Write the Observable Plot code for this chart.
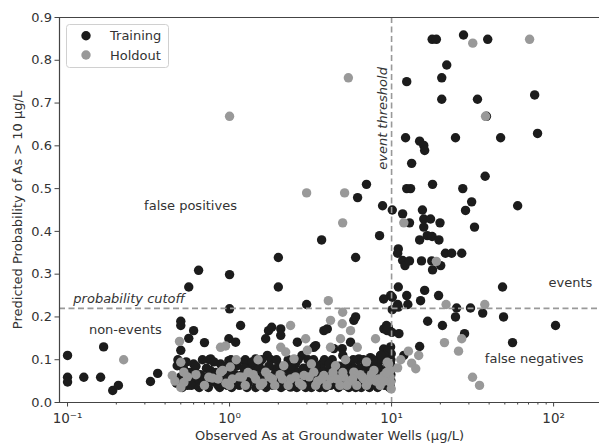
<!DOCTYPE html>
<html><head><meta charset="utf-8">
<script src="https://cdn.jsdelivr.net/npm/d3@7"></script>
<script src="https://cdn.jsdelivr.net/npm/@observablehq/plot@0.6"></script>
<style>body{margin:0;background:#fff} svg{display:block}</style>
</head><body><div id="chart"></div>
<script>
// [observed As (µg/L), predicted probability]
const training = [
[0.1,0.11],[0.167,0.13],[0.1,0.059],[0.1,0.048],[0.126,0.059],[0.16,0.059],[0.19,0.028],[0.206,0.04],[0.325,0.049],[0.36,0.068],
[0.5,0.19],[0.5,0.18],[0.6,0.168],[0.56,0.15],[0.7,0.14],[0.764,0.102],[0.5,0.122],
[0.644,0.309],[0.56,0.27],[1.0,0.299],[1.0,0.219],[2.0,0.339],[2.0,0.27],
[1.17,0.18],[1.74,0.168],[1.82,0.176],[2.07,0.172],[2.07,0.157],[1.67,0.149],[0.99,0.149],[1.09,0.141],[1.71,0.11],[1.45,0.102],[1.26,0.094],
[0.475,0.086],[0.535,0.047],[0.602,0.071],[0.646,0.055],[0.82,0.047],[0.99,0.098],[1.29,0.047],[1.52,0.086],[1.92,0.079],[2.07,0.044],
[2.99,0.229],[3.7,0.38],[6.0,0.339],[8.43,0.39],[7.0,0.51],[6.17,0.479],[8.8,0.46],[9.86,0.25],[8.93,0.242],
[5.85,0.192],[6.0,0.2],[3.82,0.168],[4.01,0.172],[2.62,0.141],[3.31,0.129],[3.4,0.133],[4.4,0.126],[4.96,0.126],[5.58,0.141],[8.96,0.172],[9.4,0.168],[9.3,0.18],
[7.78,0.09],[8.55,0.11],[6.29,0.102],[3.65,0.086],[5.33,0.079],
[2.16,0.047],[2.62,0.071],[3.16,0.047],[4.2,0.04],[7.08,0.044],[8.55,0.047],[9.9,0.051],[2.38,0.036],[4.4,0.044],
[8.93,0.125],[9.86,0.13],[9.95,0.114],[9.45,0.121],[9.6,0.105],[9.86,0.09],[9.6,0.075],[9.55,0.176],
[0.47,0.045],[0.5,0.06],[0.52,0.08],[0.55,0.04],[0.57,0.07],[0.6,0.05],[0.6,0.09],[0.63,0.04],[0.66,0.065],[0.7,0.045],[0.72,0.08],[0.75,0.1],[0.78,0.05],[0.82,0.07],[0.85,0.04],[0.88,0.09],[0.92,0.055],[0.97,0.04],[1.0,0.07],[1.02,0.1],[1.06,0.05],[1.1,0.085],[1.15,0.04],[1.2,0.065],[1.25,0.1],[1.3,0.045],[1.35,0.08],[1.4,0.055],[1.45,0.035],[1.5,0.09],[1.55,0.06],[1.6,0.04],[1.65,0.075],[1.72,0.05],[1.8,0.1],[1.85,0.04],[1.9,0.065],[2.0,0.045],[2.05,0.085],[2.1,0.06],[2.2,0.04],[2.3,0.1],[2.35,0.07],[2.45,0.05],[2.55,0.09],[2.6,0.035],[2.7,0.065],[2.8,0.11],[2.9,0.045],[3.0,0.08],[3.1,0.055],[3.2,0.035],[3.3,0.1],[3.45,0.07],[3.55,0.045],[3.7,0.09],[3.8,0.06],[3.9,0.035],[4.05,0.075],[4.2,0.05],[4.3,0.1],[4.45,0.065],[4.6,0.04],[4.75,0.085],[4.9,0.055],[5.0,0.11],[5.2,0.04],[5.35,0.07],[5.5,0.095],[5.7,0.05],[5.85,0.08],[6.0,0.035],[6.2,0.1],[6.4,0.06],[6.6,0.045],[6.8,0.085],[7.0,0.065],[7.2,0.04],[7.4,0.105],[7.6,0.055],[7.9,0.08],[8.1,0.04],[8.3,0.095],[8.6,0.06],[8.8,0.045],[9.0,0.11],[9.2,0.075],[9.4,0.05],[9.6,0.09],[9.8,0.04],[9.9,0.065],
[0.48,0.1],[0.51,0.035],[0.54,0.095],[0.58,0.04],[0.62,0.085],[0.65,0.035],[0.68,0.1],[0.7,0.06],[0.74,0.035],[0.76,0.075],[0.8,0.095],[0.83,0.055],[0.87,0.035],[0.9,0.065],[0.94,0.085],[0.98,0.055],[1.03,0.035],[1.08,0.065],[1.13,0.095],[1.18,0.05],[1.23,0.08],[1.28,0.035],[1.33,0.06],[1.38,0.095],[1.43,0.07],[1.48,0.05],[1.53,0.08],[1.58,0.1],[1.63,0.055],[1.68,0.035],[1.75,0.085],[1.82,0.06],[1.88,0.045],[1.95,0.1],[2.02,0.065],[2.08,0.035],[2.15,0.08],[2.25,0.055],[2.4,0.085],[2.5,0.04],[2.65,0.1],[2.75,0.055],[2.85,0.08],[2.95,0.035],[3.05,0.1],[3.15,0.07],[3.25,0.045],[3.4,0.085],[3.5,0.06],[3.6,0.035],[3.75,0.07],[3.85,0.1],[3.95,0.05],[4.1,0.09],[4.25,0.065],[4.4,0.085],[4.55,0.05],[4.7,0.035],[4.85,0.07],[5.05,0.045],[5.15,0.085],[5.3,0.055],[5.45,0.035],[5.6,0.075],[5.8,0.1],[5.95,0.06],[6.1,0.045],[6.3,0.08],[6.5,0.035],[6.7,0.1],[6.9,0.055],[7.1,0.08],[7.3,0.035],[7.5,0.075],[7.7,0.1],[7.8,0.045],[8.0,0.065],[8.2,0.035],[8.4,0.08],[8.6,0.11],[8.9,0.07],[9.1,0.04],[9.3,0.095],[9.5,0.065],[9.7,0.035],[9.9,0.1],
[17.8,0.849],[18.9,0.849],[27.8,0.859],[39.2,0.849],[21.9,0.789],[12.4,0.75],[20.4,0.759],[20.4,0.709],[33.9,0.709],[76.4,0.719],[38.5,0.669],[12.2,0.619],[24.8,0.619],[47.1,0.619],[79.6,0.629],[14.9,0.611],[15.8,0.601],[16.0,0.589],[13.3,0.559],[37.8,0.529],[12.4,0.5],[13.1,0.5],[17.9,0.51],[27.5,0.5],[31.2,0.469],[28.6,0.449],[60.0,0.46],[10.1,0.45],[11.7,0.441],[15.5,0.45],[15.8,0.429],[17.4,0.429],[19.9,0.42],[12.9,0.42],[15.8,0.41],[32.5,0.41],[16.6,0.39],[17.8,0.388],[19.6,0.38],[14.9,0.38],[11.0,0.359],[10.9,0.349],[21.5,0.349],[23.5,0.349],[27.1,0.349],[11.7,0.332],[12.1,0.32],[12.9,0.331],[15.3,0.331],[17.7,0.331],[20.1,0.32],[17.9,0.31],[11.0,0.27],[16.0,0.262],[48.4,0.27],[12.4,0.25],[15.1,0.238],[19.5,0.25],[10.1,0.246],[10.9,0.229],[11.0,0.223],[12.6,0.229],[10.1,0.217],[25.2,0.221],[24.8,0.2],[30.7,0.221],[36.5,0.209],[49.1,0.2],[16.7,0.19],[20.6,0.18],[102.8,0.18],[10.05,0.164],[11.1,0.161],[28.2,0.161],[55.8,0.14],[14.9,0.131],[11.9,0.11]
];
const holdout = [
[31.7,0.84],[71.1,0.849],[5.41,0.759],[1.0,0.669],[38.0,0.669],[2.99,0.49],[5.13,0.49],[4.99,0.42],[11.9,0.42],[18.9,0.33],[21.7,0.229],[37.6,0.229],[4.07,0.238],[0.222,0.1],[21.2,0.14],[27.1,0.149],[25.9,0.12],[12.7,0.12],[14.7,0.11],[11.4,0.1],[13.3,0.092],[14.1,0.079],[10.9,0.081],[31.6,0.059],[34.9,0.04],[9.8,0.059],[9.95,0.032],[9.58,0.09],
[4.99,0.211],[4.2,0.192],[4.96,0.184],[5.58,0.168],[4.84,0.149],[7.96,0.149],[2.95,0.149],[2.38,0.18],[4.2,0.129],[6.14,0.129],[3.02,0.122],[2.22,0.118],[2.5,0.102],[2.16,0.086],[9.4,0.094],[2.07,0.129],[0.88,0.129],[0.945,0.132],[0.491,0.143],[0.5,0.094],
[0.443,0.063],[0.522,0.071],[0.522,0.047],[0.745,0.059],[0.88,0.071],[1.01,0.083],[1.04,0.055],[1.2,0.059],[1.45,0.055],[1.67,0.071],[1.84,0.055],[2.12,0.055],
[2.38,0.055],[2.88,0.063],[3.31,0.071],[3.82,0.063],[4.51,0.086],[5.08,0.059],[5.85,0.071],[6.75,0.055],[7.78,0.075],[8.96,0.063],[9.86,0.047],[9.8,0.075],[0.785,0.057],[0.906,0.075],
[0.46,0.05],[0.62,0.065],[0.95,0.045],[1.3,0.07],[1.6,0.045],[2.7,0.045],[3.5,0.05],[4.2,0.055],[4.8,0.04],[5.5,0.05],[6.4,0.065],[7.2,0.05],[8.3,0.055],[1.1,0.1],[3.2,0.09],[5.2,0.1],[7.0,0.095],[1.5,0.1],
[0.5,0.035],[0.55,0.06],[0.7,0.04],[0.85,0.055],[1.0,0.04],[1.15,0.06],[1.25,0.04],[1.4,0.065],[1.55,0.04],[1.75,0.06],[1.9,0.04],[2.05,0.065],[2.3,0.04],[2.55,0.06],[2.8,0.04],[3.1,0.06],[3.4,0.04],[3.7,0.055],[4.0,0.04],[4.35,0.07],[4.6,0.055],[5.0,0.07],[5.3,0.04],[5.75,0.055],[6.1,0.04],[6.6,0.06],[7.0,0.04],[7.5,0.065],[8.0,0.05],[8.5,0.04],[9.0,0.05],[9.3,0.07]
];
const xMajorTicks = [0.1, 1, 10, 100];
const xMajorLabels = ["10\u207B\u00B9", "10\u2070", "10\u00B9", "10\u00B2"];
const yTicks = [0, 0.1, 0.2, 0.3, 0.4, 0.5, 0.6, 0.7, 0.8, 0.9];
const xDomain = [0.0892, 192];
const yDomain = [0, 0.9];
const eventThreshold = 10;
const probabilityCutoff = 0.22;
const plainNotes = [
  {text: "false positives", x: 0.574, y: 0.46},
  {text: "non-events", x: 0.2275, y: 0.171},
  {text: "events", x: 127, y: 0.28},
  {text: "false negatives", x: 75.9, y: 0.102}
];
const italicNotes = [
  {text: "probability cutoff", x: 0.24, y: 0.242, rotate: 0},
  {text: "event threshold", x: 8.77, y: 0.664, rotate: -90}
];
const xLabel = "Observed As at Groundwater Wells (\u00B5g/L)";
const yLabel = "Predicted Probability of As > 10 \u00B5g/L";
const seriesNames = ["Training", "Holdout"];
const seriesColors = ["#1c1c1c", "#999999"];

const minorTicks = [];
for (const base of [0.1, 1, 10, 100]) for (let k = 2; k <= 9; k++) {
  const v = base * k; if (v >= xDomain[0] && v <= xDomain[1]) minorTicks.push(v);
}

const FONT = "DejaVu Sans";
const plot = Plot.plot({
  width: 599, height: 446,
  marginLeft: 59, marginRight: 0, marginTop: 17, marginBottom: 44,
  style: {fontFamily: FONT, fontSize: "13px", color: "#333", background: "#fff", overflow: "visible"},
  x: {type: "log", domain: xDomain},
  y: {domain: yDomain},
  marks: [
    Plot.dot(training, {x: d => d[0], y: d => d[1], r: 4.7, fill: seriesColors[0], stroke: "none"}),
    Plot.dot(holdout, {x: d => d[0], y: d => d[1], r: 4.7, fill: seriesColors[1], stroke: "none"}),
    Plot.ruleX([eventThreshold], {stroke: "#999", strokeWidth: 1.6, strokeDasharray: "6,3.5"}),
    Plot.ruleY([probabilityCutoff], {stroke: "#999", strokeWidth: 1.6, strokeDasharray: "6,3.5"}),
    Plot.ruleX([xDomain[0]], {stroke: "#444", strokeWidth: 1.2}),
    Plot.ruleY([yDomain[0]], {stroke: "#444", strokeWidth: 1.2}),
    Plot.ruleY([yDomain[1]], {stroke: "#444", strokeWidth: 1.2}),
    Plot.axisX(minorTicks, {tickSize: 2.5, tickFormat: () => "", stroke: "#444", label: null}),
    Plot.axisX(xMajorTicks, {tickSize: 4.5, tickPadding: 6, stroke: "#444", tickFormat: d => xMajorLabels[xMajorTicks.indexOf(d)], label: null, fontSize: 13.5}),
    Plot.axisY(yTicks, {tickSize: 4.5, tickPadding: 3, stroke: "#444", tickFormat: d3.format(".1f"), label: null, fontSize: 13}),
    Plot.text(plainNotes, {x: "x", y: "y", text: "text", fontSize: 13, fill: "#333"}),
    Plot.text(italicNotes, {x: "x", y: "y", text: "text", rotate: "rotate", fontSize: 13, fontStyle: "italic", fill: "#333"}),
    Plot.text([xLabel], {text: d => d, frameAnchor: "bottom", dy: 37, fontSize: 13, fill: "#333"}),
    Plot.text([yLabel], {text: d => d, frameAnchor: "left", textAnchor: "middle", lineAnchor: "middle", dx: -42, rotate: -90, fontSize: 13, fill: "#333"})
  ]
});

const svg = d3.select(plot);
const lg = svg.append("g").attr("font-family", FONT).attr("font-size", 13).attr("text-anchor", "start");
lg.append("rect").attr("x", 66.5).attr("y", 24.5).attr("width", 102).attr("height", 43).attr("rx", 3)
  .attr("fill", "white").attr("fill-opacity", 0.85).attr("stroke", "#d0d0d0");
seriesNames.forEach((name, i) => {
  const cy = 35.7 + i * 19.3;
  lg.append("circle").attr("cx", 86).attr("cy", cy).attr("r", 4.7).attr("fill", seriesColors[i]);
  lg.append("text").attr("x", 110).attr("y", cy).attr("dy", "0.35em").attr("text-anchor", "start").attr("fill", "#333").text(name);
});
document.getElementById("chart").appendChild(plot);
</script>
</body></html>
